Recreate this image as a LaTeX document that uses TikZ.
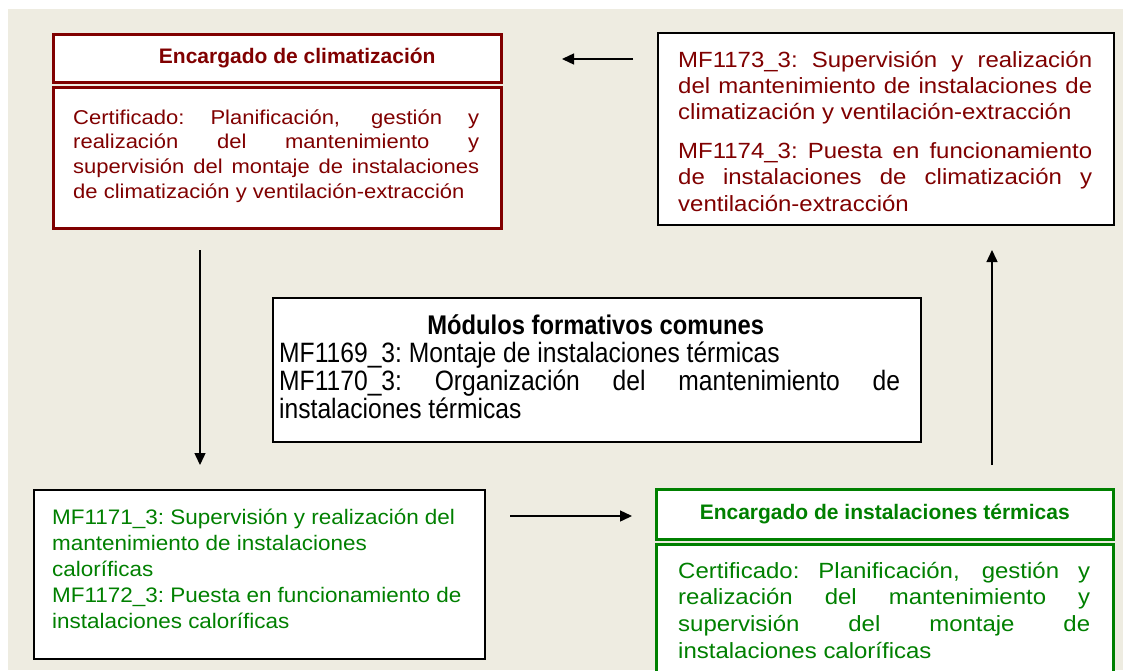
\documentclass[tikz,border=0pt]{standalone}
\usepackage{fontspec}
\setmainfont{Liberation Sans}
\newfontfamily\fA[FakeStretch=1.10]{Liberation Sans}
\newfontfamily\fB[FakeStretch=1.09]{Liberation Sans}
\newfontfamily\fC[FakeStretch=1.07]{Liberation Sans}
\newfontfamily\fM[FakeStretch=0.88]{Liberation Sans}
\usetikzlibrary{arrows.meta}
\definecolor{dred}{HTML}{800000}
\definecolor{dgreen}{HTML}{008000}
\definecolor{bgbeige}{HTML}{EEECE1}
\newcommand\jline[2]{\makebox[#1][s]{#2}}
\newcommand\wsp[1]{\spaceskip=#1 plus 3em minus 0.02em\relax\xspaceskip=#1 plus 3em minus 0.02em\relax}
\begin{document}
\begin{tikzpicture}[x=1pt,y=-1pt,
  redbox/.style={draw=dred,line width=2.5pt,fill=white,inner sep=0pt,anchor=north west},
  greenbox/.style={draw=dgreen,line width=2.5pt,fill=white,inner sep=0pt,anchor=north west},
  blackbox/.style={draw=black,line width=1.5pt,fill=white,inner sep=0pt,anchor=north west},
  txt/.style={inner sep=0pt,anchor=base west},
  titlefont/.style={font=\bfseries\fontsize{21}{24}\selectfont},
  arr/.style={draw=black,line width=1.4pt,-{Triangle[length=12pt,width=11pt]}}]
\useasboundingbox (0,0) rectangle (1123,670);
\clip (0,0) rectangle (1123,670);
\fill[bgbeige] (8,9) rectangle (1123,670);

% boxes
\node[redbox,minimum width=448pt,minimum height=48pt,titlefont,text=dred] (atitle) at (52,33) {\hspace*{40pt}Encargado de climatización};
\node[redbox,minimum width=448pt,minimum height=141pt] (abody) at (52,86) {};
\node[blackbox,minimum width=456pt,minimum height=192pt] (bbox) at (657,32) {};
\node[blackbox,minimum width=648pt,minimum height=144pt] (mbox) at (272,297) {};
\node[blackbox,minimum width=451pt,minimum height=169pt] (cbox) at (33,489) {};
\node[greenbox,minimum width=457pt,minimum height=50pt,titlefont,text=dgreen] (dtitle) at (655,488) {Encargado de instalaciones térmicas};
\node[greenbox,minimum width=457pt,minimum height=150pt] (dbody) at (655,543) {};

% texts
\node[txt,text=dred,text width=406pt] (atext) at (73,124) {\fA\fontsize{20}{24.7}\selectfont\wsp{6.1pt}%
\jline{406pt}{Certificado: Planificación, gestión y}\\
\jline{406pt}{realización del mantenimiento y}\\
\jline{406pt}{supervisión del montaje de instalaciones}\\
de climatización y ventilación-extracción\par};

\node[txt,text=dred,text width=414pt] (btext1) at (678,67) {\fB\fontsize{22}{26.3}\selectfont\wsp{6.7pt}%
\jline{414pt}{MF1173\_3: Supervisión y realización}\\
\jline{414pt}{del mantenimiento de instalaciones de}\\
climatización y ventilación-extracción\par};
\node[txt,text=dred,text width=414pt] (btext2) at (678,158) {\fB\fontsize{22}{26.7}\selectfont\wsp{6.7pt}%
\jline{414pt}{MF1174\_3: Puesta en funcionamiento}\\
\jline{414pt}{de instalaciones de climatización y}\\
ventilación-extracción\par};

\node[txt,text=black,text width=621pt] (mtext) at (279,334) {\fM\fontsize{28}{28}\selectfont\wsp{6.8pt}%
\makebox[621pt][c]{\hspace{12pt}\bfseries\fontsize{27}{28}\selectfont\wsp{6.6pt}Módulos formativos comunes}\\
MF1169\_3: Montaje de instalaciones térmicas\\
\jline{621pt}{MF1170\_3: Organización del mantenimiento de}\\
instalaciones térmicas\par};

\node[txt,text=dgreen,text width=420pt] (ctext) at (52,524) {\fC\fontsize{21}{26}\selectfont\wsp{6.2pt}%
MF1171\_3: Supervisión y realización del\\
mantenimiento de instalaciones\\
caloríficas\\
MF1172\_3: Puesta en funcionamiento de\\
instalaciones caloríficas\par};

\node[txt,text=dgreen,text width=412pt] (dtext) at (678,578) {\fB\fontsize{22}{26.7}\selectfont\wsp{6.7pt}%
\jline{412pt}{Certificado: Planificación, gestión y}\\
\jline{412pt}{realización del mantenimiento y}\\
\jline{412pt}{supervisión del montaje de}\\
instalaciones caloríficas\par};

% arrows
\coordinate (ta) at (633,59);
\coordinate (tb) at (562,59);
\coordinate (la) at (200,250);
\coordinate (lb) at (200,465);
\coordinate (ba) at (510,516);
\coordinate (bb) at (632,516);
\coordinate (ra) at (992,465);
\coordinate (rb) at (992,250);
\draw[arr] (ta) -- (tb);
\draw[arr] (la) -- (lb);
\draw[arr] (ba) -- (bb);
\draw[arr] (ra) -- (rb);
\end{tikzpicture}
\end{document}
